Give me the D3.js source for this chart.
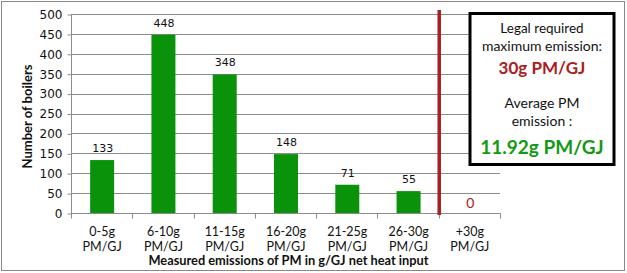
<!DOCTYPE html>
<html>
<head>
<meta charset="utf-8">
<script src="https://cdn.jsdelivr.net/npm/d3@7"></script>
<style>
  body { margin: 0; background: #fff; }
  svg { display: block; }
</style>
</head>
<body>
<div id="main"></div>
<script>
const ctx = { w: 627, h: 273 };

// data
const categories = ["0-5g PM/GJ", "6-10g PM/GJ", "11-15g PM/GJ", "16-20g PM/GJ",
                    "21-25g PM/GJ", "26-30g PM/GJ", "+30g PM/GJ"];
const boilers = [133, 448, 348, 148, 71, 55, 0];
const yTicks = [0, 50, 100, 150, 200, 250, 300, 350, 400, 450, 500];
const limitCategory = "+30g PM/GJ";
const boxLines = ["Legal required", "maximum emission:", "30g PM/GJ", "Average PM", "emission :", "11.92g PM/GJ"];

const m = { left: 71, right: 500, top: 14, bottom: 213 };
const green = "#0a930a", red = "#a82020";

let svg = d3.select("#main").append("svg")
    .attr("width", ctx.w).attr("height", ctx.h);

// outer frame
svg.append("rect").attr("x", 1.5).attr("y", 1.5)
   .attr("width", 623).attr("height", 269)
   .attr("fill", "#fff").attr("stroke", "#888").attr("stroke-width", 1);

let x = d3.scaleBand().domain(categories).range([m.left, m.right]).paddingInner(0).paddingOuter(0);
let y = d3.scaleLinear().domain([0, 500]).range([m.bottom, m.top]);

// grid
svg.append("g").selectAll("line").data(yTicks.slice(1)).enter().append("line")
   .attr("x1", m.left).attr("x2", m.right)
   .attr("y1", d => Math.round(y(d)) + 0.5).attr("y2", d => Math.round(y(d)) + 0.5)
   .attr("stroke", "#8c8c8c");

// y axis
let yAxis = svg.append("g").attr("transform", `translate(${m.left + 0.5},0.5)`)
   .call(d3.axisLeft(y).tickValues(yTicks).tickSize(4).tickPadding(5));
yAxis.select(".domain").attr("stroke", "#8c8c8c").attr("d", `M-0,${m.top}V${m.bottom}`);
yAxis.selectAll(".tick line").attr("stroke", "#8c8c8c");
yAxis.selectAll("text").attr("font-family", "DejaVu Sans").attr("font-size", 12).attr("fill", "#111");

// x axis
let xAxis = svg.append("g").attr("transform", `translate(0.5,${m.bottom + 0.5})`);
xAxis.append("line").attr("x1", m.left).attr("x2", m.right).attr("stroke", "#8c8c8c");
xAxis.selectAll(".tk").data(categories.map(c => x(c)).concat([m.right])).enter().append("line")
   .attr("x1", d => Math.round(d)).attr("x2", d => Math.round(d))
   .attr("y1", 0).attr("y2", 5).attr("stroke", "#8c8c8c");
let cl = xAxis.selectAll(".cl").data(categories).enter().append("text")
   .attr("font-family", "Lato").attr("font-size", 12.5).attr("fill", "#111")
   .attr("text-anchor", "middle");
cl.append("tspan").attr("x", d => x(d) + x.bandwidth() / 2).attr("y", 22)
  .text(d => d.split(" ")[0]);
cl.append("tspan").attr("x", d => x(d) + x.bandwidth() / 2).attr("y", 37)
  .text(d => d.split(" ")[1]);

// bars
const bw = 24;
svg.append("g").selectAll("rect").data(boilers).enter().append("rect")
   .attr("x", (d, i) => x(categories[i]) + x.bandwidth() / 2 - bw / 2 + 0.5)
   .attr("y", d => y(d))
   .attr("width", bw)
   .attr("height", d => y(0) - y(d))
   .attr("fill", green);

// value labels
svg.append("g").selectAll("text").data(boilers).enter().append("text")
   .attr("x", (d, i) => x(categories[i]) + x.bandwidth() / 2 + 1)
   .attr("y", d => d === 0 ? y(d) - 5 : y(d) - 8)
   .attr("text-anchor", "middle")
   .attr("font-family", d => d === 0 ? "Lato" : "DejaVu Sans")
   .attr("font-size", d => d === 0 ? 14 : 11)
   .attr("fill", d => d === 0 ? red : "#111")
   .text(d => d);

// limit line
svg.append("line")
   .attr("x1", x(limitCategory) + 0.5).attr("x2", x(limitCategory) + 0.5)
   .attr("y1", 10).attr("y2", m.bottom + 2)
   .attr("stroke", red).attr("stroke-width", 3.5);

// axis titles
svg.append("text").attr("transform", `translate(32,${(m.top + m.bottom) / 2 + 3}) rotate(-90)`)
   .attr("text-anchor", "middle").attr("font-family", "Lato").attr("font-weight", "bold")
   .attr("font-size", 13).attr("fill", "#111").text("Number of boilers");
svg.append("text").attr("x", (m.left + m.right) / 2 + 3).attr("y", 265)
   .attr("text-anchor", "middle").attr("font-family", "Lato").attr("font-weight", "bold")
   .attr("font-size", 12.8).attr("fill", "#111")
   .text("Measured emissions of PM in g/GJ net heat input");

// annotation box
let box = svg.append("g");
box.append("rect").attr("x", 470).attr("y", 13.5).attr("width", 144).attr("height", 151)
   .attr("fill", "#fff").attr("stroke", "#000").attr("stroke-width", 3);
const lineY = [33, 51, 74, 108, 126, 154];
const lineStyle = [
  { size: 13.5, weight: "normal", fill: "#111" },
  { size: 14, weight: "normal", fill: "#111" },
  { size: 17, weight: "bold", fill: red },
  { size: 14, weight: "normal", fill: "#111" },
  { size: 14, weight: "normal", fill: "#111" },
  { size: 19, weight: "bold", fill: "#139a13" }
];
box.selectAll("text").data(boxLines).enter().append("text")
   .attr("x", 542).attr("y", (d, i) => lineY[i])
   .attr("text-anchor", "middle").attr("font-family", "Lato")
   .attr("font-size", (d, i) => lineStyle[i].size)
   .attr("font-weight", (d, i) => lineStyle[i].weight)
   .attr("fill", (d, i) => lineStyle[i].fill)
   .text(d => d);
</script>
</body>
</html>
